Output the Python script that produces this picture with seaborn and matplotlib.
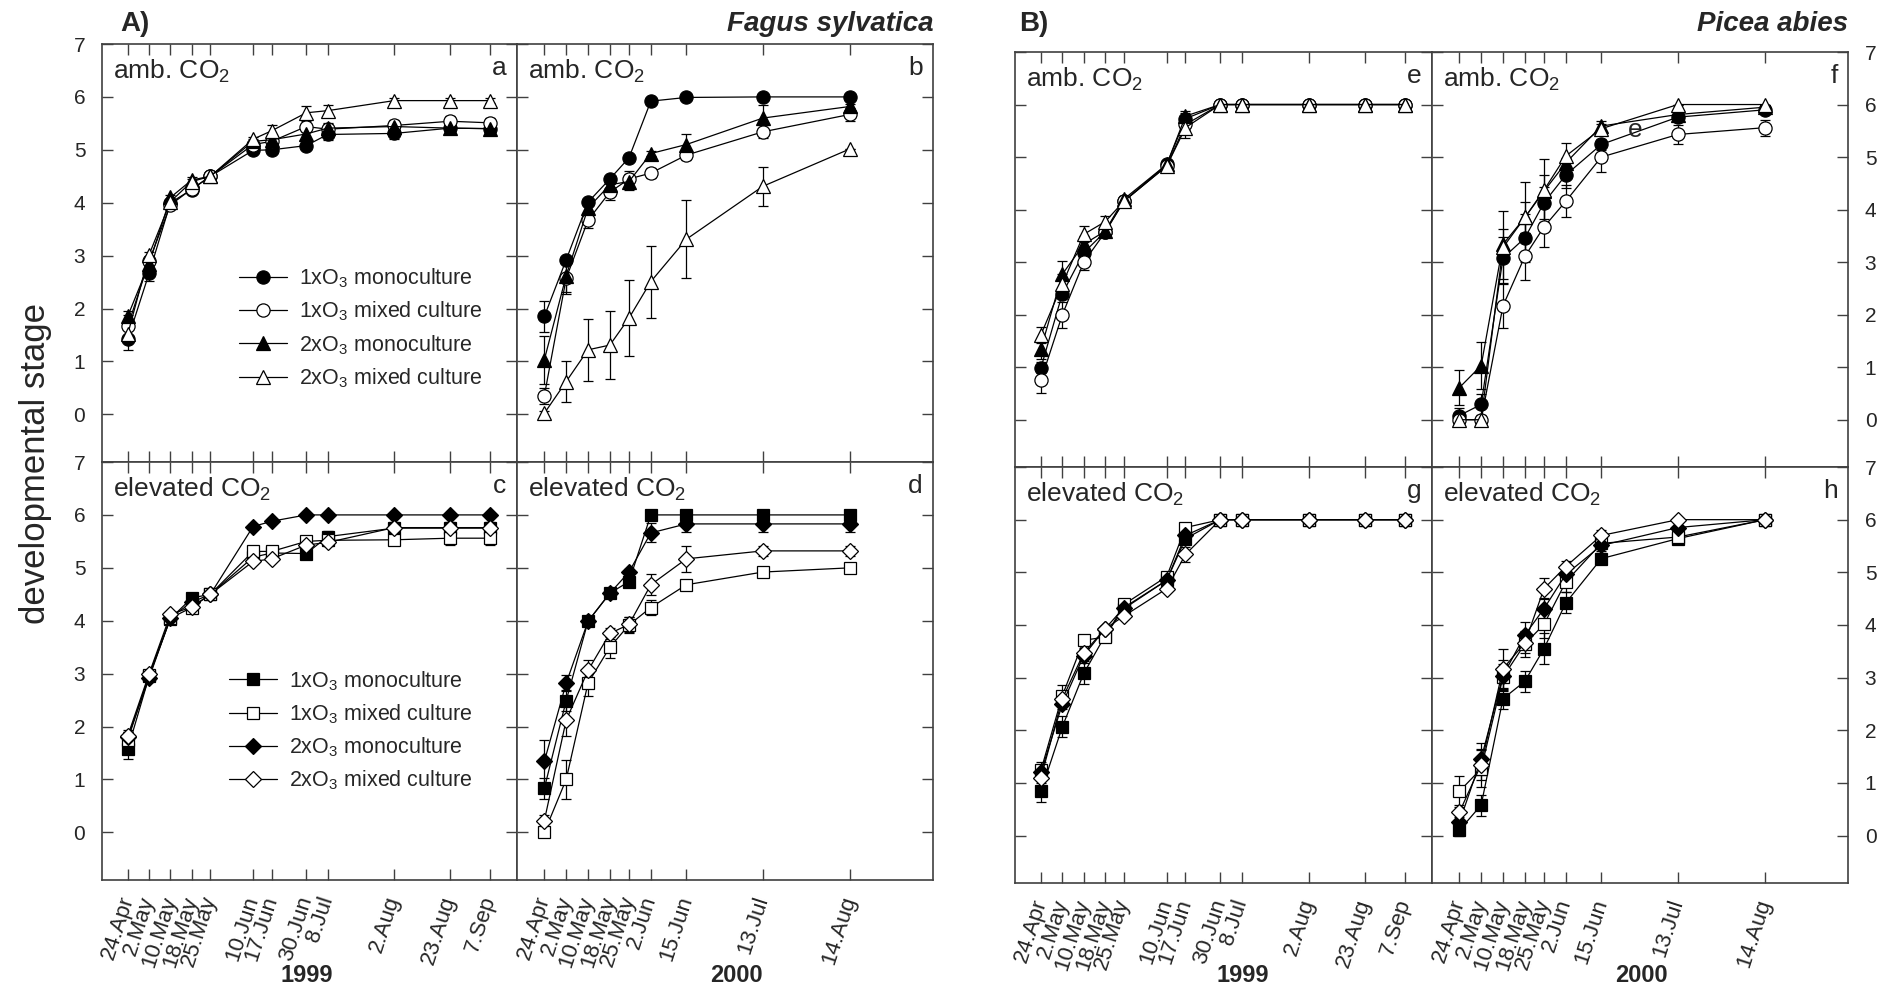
import datetime as dt
import pandas as pd
import matplotlib
matplotlib.use("Agg")
import matplotlib.pyplot as plt
import seaborn as sns
from matplotlib.lines import Line2D

# ---------------- data ----------------
dates_1999 = ["24.Apr", "2.May", "10.May", "18.May", "25.May", "10.Jun", "17.Jun",
              "30.Jun", "8.Jul", "2.Aug", "23.Aug", "7.Sep"]
dates_2000 = ["24.Apr", "2.May", "10.May", "18.May", "25.May", "2.Jun", "15.Jun",
              "13.Jul", "14.Aug"]

series_labels = ["1xO$_3$ monoculture", "1xO$_3$ mixed culture",
                 "2xO$_3$ monoculture", "2xO$_3$ mixed culture"]

# Fagus sylvatica, ambient CO2, 1999 (a)
a_mono1 = [1.42, 2.67, 4.00, 4.25, 4.50, 4.99, 5.00, 5.08, 5.29, 5.31, 5.41, 5.40]
a_mix1 = [1.67, 2.90, 3.96, 4.26, 4.50, 5.10, 5.16, 5.44, 5.39, 5.46, 5.54, 5.51]
a_mono2 = [1.86, 2.85, 4.10, 4.43, 4.50, 5.16, 5.19, 5.30, 5.41, 5.44, 5.41, 5.40]
a_mix2 = [1.52, 3.02, 4.02, 4.40, 4.50, 5.20, 5.36, 5.70, 5.74, 5.93, 5.93, 5.93]
a_err_mono1 = [0.20, 0.15, 0.05, 0.05, 0.05, 0.05, 0.05, 0.05, 0.10, 0.10, 0.10, 0.10]
a_err_mix1 = [0.20, 0.10, 0.05, 0.05, 0.05, 0.05, 0.08, 0.10, 0.10, 0.10, 0.10, 0.10]
a_err_mono2 = [0.10, 0.10, 0.05, 0.05, 0.05, 0.05, 0.05, 0.10, 0.10, 0.08, 0.10, 0.10]
a_err_mix2 = [0.10, 0.05, 0.05, 0.05, 0.05, 0.05, 0.10, 0.12, 0.10, 0.05, 0.05, 0.05]

# Fagus sylvatica, ambient CO2, 2000 (b)
b_mono1 = [1.85, 2.92, 4.01, 4.45, 4.85, 5.92, 5.99, 6.00, 6.00]
b_mix1 = [0.35, 2.57, 3.67, 4.20, 4.45, 4.56, 4.90, 5.34, 5.67]
b_mono2 = [1.03, 2.62, 3.90, 4.34, 4.40, 4.93, 5.10, 5.60, 5.82]
b_mix2 = [0.02, 0.62, 1.22, 1.31, 1.82, 2.51, 3.31, 4.31, 5.02]
b_err_mono1 = [0.30, 0.05, 0.05, 0.05, 0.05, 0.05, 0.00, 0.00, 0.00]
b_err_mix1 = [0.15, 0.30, 0.15, 0.15, 0.15, 0.10, 0.10, 0.12, 0.12]
b_err_mono2 = [0.45, 0.30, 0.10, 0.15, 0.15, 0.05, 0.20, 0.25, 0.05]
b_err_mix2 = [0.05, 0.38, 0.58, 0.65, 0.72, 0.68, 0.74, 0.37, 0.00]

# Fagus sylvatica, elevated CO2, 1999 (c)
c_mono1 = [1.58, 2.95, 4.04, 4.43, 4.50, 5.20, 5.28, 5.27, 5.59, 5.75, 5.75, 5.75]
c_mix1 = [1.75, 2.98, 4.05, 4.25, 4.50, 5.31, 5.31, 5.50, 5.52, 5.53, 5.56, 5.56]
c_mono2 = [1.80, 2.92, 4.06, 4.35, 4.50, 5.78, 5.88, 6.00, 6.00, 6.00, 6.00, 6.00]
c_mix2 = [1.83, 3.00, 4.12, 4.26, 4.50, 5.12, 5.17, 5.43, 5.48, 5.76, 5.76, 5.76]
c_err_mono1 = [0.20, 0.05, 0.05, 0.05, 0.05, 0.05, 0.05, 0.10, 0.10, 0.10, 0.10, 0.10]
c_err_mix1 = [0.15, 0.05, 0.05, 0.10, 0.05, 0.08, 0.10, 0.10, 0.10, 0.10, 0.12, 0.12]
c_err_mono2 = [0.10, 0.05, 0.05, 0.05, 0.05, 0.05, 0.00, 0.00, 0.00, 0.00, 0.00, 0.00]
c_err_mix2 = [0.10, 0.05, 0.05, 0.05, 0.05, 0.05, 0.05, 0.05, 0.05, 0.10, 0.10, 0.10]

# Fagus sylvatica, elevated CO2, 2000 (d)
d_mono1 = [0.83, 2.49, 3.99, 4.52, 4.74, 6.00, 6.00, 6.00, 6.00]
d_mix1 = [0.00, 1.00, 2.82, 3.50, 3.92, 4.25, 4.68, 4.92, 5.00]
d_mono2 = [1.34, 2.82, 3.99, 4.52, 4.92, 5.66, 5.83, 5.83, 5.83]
d_mix2 = [0.22, 2.12, 3.06, 3.76, 3.93, 4.68, 5.17, 5.32, 5.32]
d_err_mono1 = [0.20, 0.20, 0.05, 0.05, 0.10, 0.00, 0.10, 0.10, 0.10]
d_err_mix1 = [0.05, 0.36, 0.25, 0.20, 0.15, 0.15, 0.05, 0.05, 0.05]
d_err_mono2 = [0.40, 0.15, 0.05, 0.05, 0.05, 0.18, 0.15, 0.15, 0.15]
d_err_mix2 = [0.10, 0.30, 0.20, 0.10, 0.15, 0.20, 0.25, 0.10, 0.10]

# Picea abies, ambient CO2, 1999 (e)
e_mono1 = [0.99, 2.40, 3.18, 3.58, 4.16, 4.86, 5.73, 6.00, 6.00, 6.00, 6.00, 6.00]
e_mix1 = [0.75, 2.00, 3.00, 3.57, 4.16, 4.83, 5.62, 6.00, 6.00, 6.00, 6.00, 6.00]
e_mono2 = [1.35, 2.77, 3.34, 3.59, 4.20, 4.86, 5.78, 6.00, 6.00, 6.00, 6.00, 6.00]
e_mix2 = [1.62, 2.58, 3.53, 3.77, 4.16, 4.83, 5.56, 6.00, 6.00, 6.00, 6.00, 6.00]
e_err_mono1 = [0.10, 0.10, 0.10, 0.10, 0.05, 0.05, 0.10, 0.00, 0.00, 0.00, 0.00, 0.00]
e_err_mix1 = [0.25, 0.25, 0.15, 0.10, 0.05, 0.05, 0.10, 0.00, 0.00, 0.00, 0.00, 0.00]
e_err_mono2 = [0.20, 0.25, 0.15, 0.10, 0.05, 0.05, 0.10, 0.00, 0.00, 0.00, 0.00, 0.00]
e_err_mix2 = [0.15, 0.20, 0.15, 0.10, 0.05, 0.05, 0.20, 0.00, 0.00, 0.00, 0.00, 0.00]

# Picea abies, ambient CO2, 2000 (f)
f_mono1 = [0.08, 0.29, 3.08, 3.46, 4.13, 4.66, 5.24, 5.76, 5.90]
f_mix1 = [0.00, 0.00, 2.17, 3.11, 3.67, 4.16, 5.00, 5.43, 5.56]
f_mono2 = [0.61, 1.03, 3.34, 3.85, 4.35, 4.89, 5.59, 5.81, 5.95]
f_mix2 = [0.00, 0.00, 3.28, 3.85, 4.37, 5.02, 5.54, 6.00, 6.00]
f_err_mono1 = [0.15, 0.20, 0.40, 0.45, 0.30, 0.25, 0.10, 0.10, 0.05]
f_err_mix1 = [0.00, 0.00, 0.43, 0.45, 0.38, 0.30, 0.28, 0.18, 0.15]
f_err_mono2 = [0.33, 0.45, 0.30, 0.30, 0.30, 0.10, 0.10, 0.10, 0.05]
f_err_mix2 = [0.00, 0.00, 0.70, 0.68, 0.60, 0.25, 0.08, 0.00, 0.00]

# Picea abies, elevated CO2, 1999 (g)
g_mono1 = [0.84, 2.07, 3.08, 3.80, 4.31, 4.85, 5.64, 6.00, 6.00, 6.00, 6.00, 6.00]
g_mix1 = [1.24, 2.66, 3.71, 3.77, 4.39, 4.92, 5.85, 6.00, 6.00, 6.00, 6.00, 6.00]
g_mono2 = [1.20, 2.50, 3.42, 3.93, 4.33, 4.85, 5.70, 6.00, 6.00, 6.00, 6.00, 6.00]
g_mix2 = [1.10, 2.60, 3.47, 3.93, 4.17, 4.69, 5.34, 6.00, 6.00, 6.00, 6.00, 6.00]
g_err_mono1 = [0.20, 0.20, 0.20, 0.10, 0.05, 0.05, 0.10, 0.00, 0.00, 0.00, 0.00, 0.00]
g_err_mix1 = [0.15, 0.20, 0.10, 0.10, 0.05, 0.05, 0.05, 0.00, 0.00, 0.00, 0.00, 0.00]
g_err_mono2 = [0.10, 0.10, 0.10, 0.05, 0.05, 0.05, 0.05, 0.00, 0.00, 0.00, 0.00, 0.00]
g_err_mix2 = [0.10, 0.10, 0.10, 0.05, 0.05, 0.05, 0.15, 0.00, 0.00, 0.00, 0.00, 0.00]

# Picea abies, elevated CO2, 2000 (h)
h_mono1 = [0.10, 0.58, 2.60, 2.93, 3.55, 4.42, 5.26, 5.64, 6.00]
h_mix1 = [0.84, 1.27, 3.01, 3.64, 4.01, 4.82, 5.55, 5.67, 6.00]
h_mono2 = [0.25, 1.46, 3.04, 3.81, 4.31, 4.96, 5.51, 5.85, 6.00]
h_mix2 = [0.44, 1.35, 3.17, 3.66, 4.69, 5.11, 5.70, 6.00, 6.00]
h_err_mono1 = [0.10, 0.20, 0.20, 0.20, 0.30, 0.20, 0.10, 0.10, 0.00]
h_err_mix1 = [0.30, 0.35, 0.25, 0.25, 0.25, 0.20, 0.10, 0.10, 0.00]
h_err_mono2 = [0.10, 0.30, 0.30, 0.25, 0.20, 0.10, 0.10, 0.10, 0.00]
h_err_mix2 = [0.15, 0.30, 0.38, 0.20, 0.20, 0.10, 0.10, 0.00, 0.00]

# ---------------- style ----------------
sns.set_theme(style="ticks")
plt.rcParams["font.family"] = ["Liberation Sans", "DejaVu Sans"]
plt.rcParams["mathtext.fontset"] = "custom"
plt.rcParams["mathtext.rm"] = "Liberation Sans"
plt.rcParams["mathtext.it"] = "Liberation Sans:italic"
plt.rcParams["mathtext.bf"] = "Liberation Sans:bold"

W, H = 1885, 991
fig = plt.figure(figsize=(W / 100, H / 100), dpi=100)


def rect(x0, y0, x1, y1):
    return [x0 / W, 1 - y1 / H, (x1 - x0) / W, (y1 - y0) / H]


def doy(labels, year):
    return [dt.datetime.strptime(f"{d}.{year}", "%d.%b.%Y").timetuple().tm_yday
            for d in labels]


x99 = doy(dates_1999, 1999)
x00 = doy(dates_2000, 2000)

amb_styles = [("o", "black"), ("o", "white"), ("^", "black"), ("^", "white")]
elev_styles = [("s", "black"), ("s", "white"), ("D", "black"), ("D", "white")]
msize = {"o": 9.5, "^": 10, "s": 9, "D": 8.5}

SP = "#404040"


def panel(rc, x, dates, xlim, series, errs, styles, title, letter,
          ylab_left=False, ylab_right=False, xlabels=False):
    ax = fig.add_axes(rc)
    for y, e, (mk, fc) in zip(series, errs, styles):
        ax.errorbar(x, y, yerr=e, fmt="none", ecolor="black", elinewidth=0.9,
                    capsize=3.5, capthick=0.9, zorder=2)
        df = pd.DataFrame({"x": x, "y": y})
        sns.lineplot(data=df, x="x", y="y", ax=ax, color="black", lw=0.9,
                     marker=mk, markersize=msize[mk], markerfacecolor=fc,
                     markeredgecolor="black", markeredgewidth=0.9,
                     estimator=None, sort=False, zorder=3)
    ax.set_xlabel("")
    ax.set_ylabel("")
    ax.set_xlim(*xlim)
    ax.set_ylim(-0.9, 7)
    ax.set_yticks(range(8))
    ax.set_xticks(x)
    if xlabels:
        ax.set_xticklabels(dates, rotation=72, ha="right", va="center",
                           rotation_mode="anchor", fontsize=16)
    else:
        ax.set_xticklabels([])
    ax.tick_params(axis="both", direction="in", length=8, width=1, color=SP,
                   top=True, bottom=True, left=True, right=True,
                   labelleft=ylab_left, labelright=ylab_right,
                   labelbottom=xlabels, labeltop=False)
    ax.tick_params(axis="y", labelsize=15, pad=12)
    ax.tick_params(axis="x", pad=12)
    for s in ax.spines.values():
        s.set_color(SP)
        s.set_linewidth(1.2)
    ax.text(0.027, 0.935, title, transform=ax.transAxes, ha="left", va="center",
            fontsize=19)
    ax.text(0.975, 0.943, letter, transform=ax.transAxes, ha="right", va="center",
            fontsize=19)
    return ax


def legend(ax, styles, anchor):
    handles = [Line2D([], [], color="black", lw=0.9, marker=mk,
                      markersize=msize[mk], markerfacecolor=fc,
                      markeredgecolor="black", markeredgewidth=0.9)
               for mk, fc in styles]
    ax.legend(handles, series_labels, loc="upper left", bbox_to_anchor=anchor,
              frameon=False, fontsize=15.5, handlelength=2.25, handletextpad=0.55,
              labelspacing=0.45, borderpad=0, borderaxespad=0)


amb = "amb. CO$_2$"
elev = "elevated CO$_2$"
xl99 = (104.3, 260.1)
xl00 = (105.0, 257.3)

ax_a = panel(rect(102, 44, 517, 462), x99, dates_1999, xl99,
             [a_mono1, a_mix1, a_mono2, a_mix2],
             [a_err_mono1, a_err_mix1, a_err_mono2, a_err_mix2],
             amb_styles, amb, "a", ylab_left=True)
legend(ax_a, amb_styles, (0.33, 0.468))
panel(rect(517, 44, 933, 462), x00, dates_2000, xl00,
      [b_mono1, b_mix1, b_mono2, b_mix2],
      [b_err_mono1, b_err_mix1, b_err_mono2, b_err_mix2],
      amb_styles, amb, "b")
ax_c = panel(rect(102, 462, 517, 880), x99, dates_1999, xl99,
             [c_mono1, c_mix1, c_mono2, c_mix2],
             [c_err_mono1, c_err_mix1, c_err_mono2, c_err_mix2],
             elev_styles, elev, "c", ylab_left=True, xlabels=True)
legend(ax_c, elev_styles, (0.306, 0.505))
panel(rect(517, 462, 933, 880), x00, dates_2000, xl00,
      [d_mono1, d_mix1, d_mono2, d_mix2],
      [d_err_mono1, d_err_mix1, d_err_mono2, d_err_mix2],
      elev_styles, elev, "d", xlabels=True)

panel(rect(1015, 52, 1432, 467), x99, dates_1999, xl99,
      [e_mono1, e_mix1, e_mono2, e_mix2],
      [e_err_mono1, e_err_mix1, e_err_mono2, e_err_mix2],
      amb_styles, amb, "e")
ax_f = panel(rect(1432, 52, 1848, 467), x00, dates_2000, xl00,
             [f_mono1, f_mix1, f_mono2, f_mix2],
             [f_err_mono1, f_err_mix1, f_err_mono2, f_err_mix2],
             amb_styles, amb, "f", ylab_right=True)
ax_f.text(0.488, 0.812, "e", transform=ax_f.transAxes, ha="center", va="center",
          fontsize=19)
panel(rect(1015, 467, 1432, 883), x99, dates_1999, xl99,
      [g_mono1, g_mix1, g_mono2, g_mix2],
      [g_err_mono1, g_err_mix1, g_err_mono2, g_err_mix2],
      elev_styles, elev, "g", xlabels=True)
panel(rect(1432, 467, 1848, 883), x00, dates_2000, xl00,
      [h_mono1, h_mix1, h_mono2, h_mix2],
      [h_err_mono1, h_err_mix1, h_err_mono2, h_err_mix2],
      elev_styles, elev, "h", ylab_right=True, xlabels=True)

# figure texts
fig.text(120 / W, 1 - 24 / H, "A)", ha="left", va="center", fontsize=20,
         fontweight="bold")
fig.text(933 / W, 1 - 24 / H, "Fagus sylvatica", ha="right", va="center",
         fontsize=20, fontweight="bold", fontstyle="italic")
fig.text(1019 / W, 1 - 24 / H, "B)", ha="left", va="center", fontsize=20,
         fontweight="bold")
fig.text(1848 / W, 1 - 24 / H, "Picea abies", ha="right", va="center",
         fontsize=20, fontweight="bold", fontstyle="italic")
fig.text(36 / W, 1 - 463 / H, "developmental stage", ha="center", va="center",
         rotation=90, fontsize=25)
for xp, yr in [(307, "1999"), (736, "2000"), (1243, "1999"), (1641, "2000")]:
    fig.text(xp / W, 1 - 976 / H, yr, ha="center", va="center", fontsize=17,
             fontweight="bold")

fig.savefig("out.png", dpi=100)
